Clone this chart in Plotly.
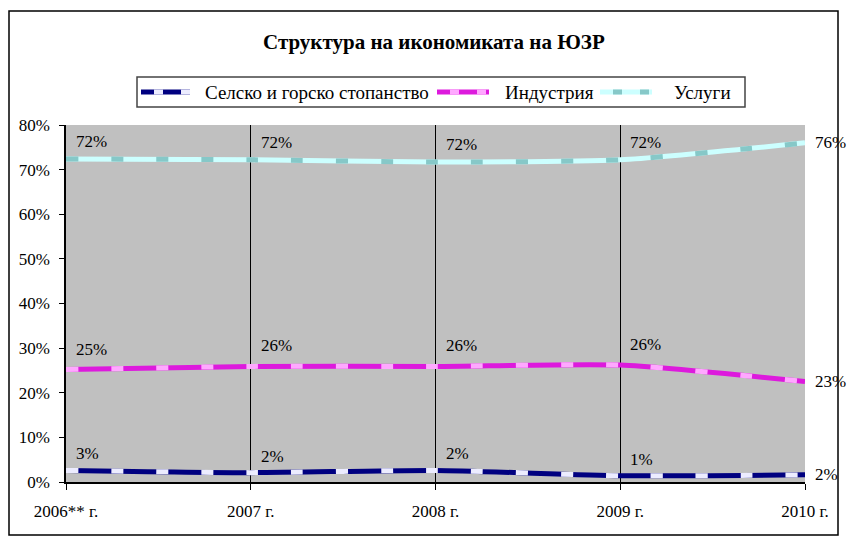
import plotly.graph_objects as go

categories = ["2006** г.", "2007 г.", "2008 г.", "2009 г.", "2010 г."]
agriculture = [2.6, 2.1, 2.6, 1.4, 1.6]
industry = [25.2, 25.9, 25.9, 26.2, 22.5]
services = [72.4, 72.2, 71.7, 72.2, 76.0]
series_names = ["Селско и горско стопанство", "Индустрия", "Услуги"]
labels_agri = ["3%", "2%", "2%", "1%", "2%"]
labels_ind = ["25%", "26%", "26%", "26%", "23%"]
labels_serv = ["72%", "72%", "72%", "72%", "76%"]

FONT = "Liberation Serif"
styles = [
    # base color, overlay dash color
    ("#000080", "#ECECFF"),
    ("#DD1ADD", "#FFA8FF"),
    ("#CCFFFF", "#86C8C8"),
]
label_yshift = [5, 9, 6]
DASH = "12px,33px"
xs = list(range(len(categories)))

fig = go.Figure()
all_vals = [agriculture, industry, services]
all_labels = [labels_agri, labels_ind, labels_serv]
for name, vals, (base, over) in zip(series_names, all_vals, styles):
    fig.add_trace(go.Scatter(x=xs, y=vals, mode="lines", name=name,
                             line=dict(color=base, width=5, shape="spline", smoothing=0.6),
                             showlegend=False, hoverinfo="skip"))
    fig.add_trace(go.Scatter(x=xs, y=vals, mode="lines", name=name,
                             line=dict(color=over, width=5, shape="spline", smoothing=0.6, dash=DASH),
                             showlegend=False, hoverinfo="skip"))

annotations = []
for vals, labs, ys in zip(all_vals, all_labels, label_yshift):
    for i, (v, t) in enumerate(zip(vals, labs)):
        if i < len(vals) - 1:
            annotations.append(dict(x=xs[i], y=v, text=t, showarrow=False,
                                    xanchor="left", yanchor="bottom", xshift=8, yshift=ys,
                                    font=dict(family=FONT, size=17, color="black")))
        else:
            annotations.append(dict(x=xs[i], y=v, text=t, showarrow=False,
                                    xanchor="left", yanchor="middle", xshift=8, yshift=0,
                                    font=dict(family=FONT, size=17, color="black")))

W = 739.0
H = 357.0
def px(x):
    return (x - 66) / W
def py(y):
    return (482 - y) / H

# title
annotations.append(dict(xref="paper", yref="paper", x=px(434), y=py(42), text="<b>Структура на икономиката на ЮЗР</b>",
                        showarrow=False, xanchor="center", yanchor="middle",
                        font=dict(family=FONT, size=21, color="black")))

shapes = []
# outer border
shapes.append(dict(type="rect", xref="paper", yref="paper", x0=px(9), x1=px(838), y0=py(535), y1=py(11),
                   line=dict(color="black", width=1.5), fillcolor="rgba(0,0,0,0)", layer="below"))
# legend box
shapes.append(dict(type="rect", xref="paper", yref="paper", x0=px(137), x1=px(745), y0=py(107), y1=py(77),
                   line=dict(color="#444444", width=1.5), fillcolor="white"))
leg_items = [(141, 190, 203), (437, 489, 503), (600, 652, 672)]
ly = py(92)
for (x0, x1, tx), name, (base, over) in zip(leg_items, series_names, styles):
    shapes.append(dict(type="line", xref="paper", yref="paper", x0=px(x0), x1=px(x1), y0=ly, y1=ly,
                       line=dict(color=base, width=5)))
    shapes.append(dict(type="line", xref="paper", yref="paper", x0=px(x0 + 13), x1=px(x1), y0=ly, y1=ly,
                       line=dict(color=over, width=5, dash="9px,18px")))
    annotations.append(dict(xref="paper", yref="paper", x=px(tx), y=ly, text=name, showarrow=False,
                            xanchor="left", yanchor="middle",
                            font=dict(family=FONT, size=19, color="black")))

fig.update_layout(
    width=848, height=545,
    margin=dict(l=66, r=43, t=125, b=63),
    paper_bgcolor="white", plot_bgcolor="#C0C0C0",
    showlegend=False,
    annotations=annotations, shapes=shapes,
    font=dict(family=FONT, size=17, color="black"),
)
fig.update_xaxes(range=[0, 4], tickvals=xs, ticktext=categories, showgrid=True,
                 gridcolor="black", gridwidth=1, showline=True, linecolor="black", linewidth=1.5,
                 ticks="outside", ticklen=6, tickcolor="black", zeroline=False,
                 ticklabelstandoff=7, tickfont=dict(family=FONT, size=17))
fig.update_yaxes(range=[0, 80], tickvals=[0, 10, 20, 30, 40, 50, 60, 70, 80],
                 ticktext=["0%", "10%", "20%", "30%", "40%", "50%", "60%", "70%", "80%"],
                 showgrid=False, showline=True, linecolor="black", linewidth=1.5,
                 ticks="outside", ticklen=5, tickcolor="black", zeroline=False,
                 ticklabelstandoff=6, tickfont=dict(family=FONT, size=17))

fig.write_html("out.html", config={"displayModeBar": False},
               post_script="document.body.style.margin='0px';")
